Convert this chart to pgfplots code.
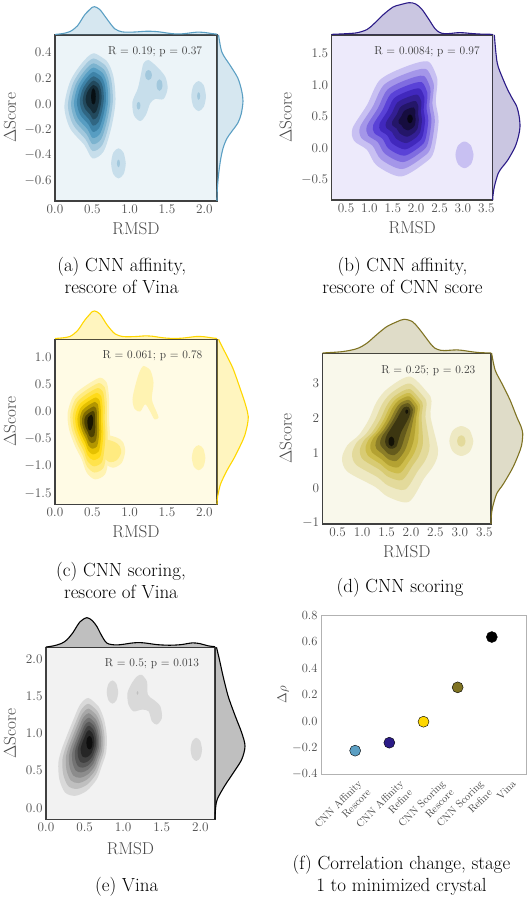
\RequirePackage{fix-cm}
\documentclass[border=0pt]{standalone}
\usepackage{pgfplots}
\pgfplotsset{compat=1.18}
\definecolor{baseA}{rgb}{0.268,0.572,0.733}
\definecolor{baseB}{rgb}{0.283,0.175,0.825}
\definecolor{baseC}{rgb}{1,0.843,0}
\definecolor{baseD}{rgb}{0.784,0.708,0.216}
\definecolor{baseE}{rgb}{0.5,0.5,0.5}
\definecolor{lineA}{rgb}{0.357,0.624,0.765}
\definecolor{lineB}{rgb}{0.169,0.106,0.529}
\definecolor{lineC}{rgb}{1,0.843,0}
\definecolor{lineD}{rgb}{0.498,0.451,0.137}
\definecolor{lineE}{rgb}{0,0,0}
\newcommand{\mkpal}[1]{%
 \colorlet{#1a}{base#1!10!white}%
 \colorlet{#1b}{base#1!30!white}%
 \colorlet{#1c}{base#1!50!white}%
 \colorlet{#1d}{base#1!70!white}%
 \colorlet{#1e}{base#1!90!white}%
 \colorlet{#1f}{base#1!90!black}%
 \colorlet{#1g}{base#1!70!black}%
 \colorlet{#1h}{base#1!50!black}%
 \colorlet{#1i}{base#1!30!black}%
 \colorlet{#1j}{base#1!10!black}}
\mkpal{A}\mkpal{B}\mkpal{C}\mkpal{D}\mkpal{E}
\newcommand{\blob}[2]{\addplot[draw=none,fill=#1,smooth] coordinates {#2};}
\newcommand{\capfont}{\fontsize{19}{22}\selectfont}
\tikzset{rtext/.style={font=\fontsize{11.5}{13}\selectfont, text=black!78}}
\pgfplotsset{
 kde/.style={scale only axis, anchor=south west, axis on top,
   axis line style={draw=black!75, line width=1.1pt},
   tick style={draw=none}, major tick length=0pt,
   tick label style={font=\fontsize{13.2}{15}\selectfont, text=black!70},
   xticklabel style={/pgf/number format/.cd, fixed, fixed zerofill, precision=1},
   yticklabel style={/pgf/number format/.cd, fixed, fixed zerofill, precision=1},
   xlabel={RMSD}, ylabel={$\Delta$Score},
   label style={font=\fontsize{17.2}{20}\selectfont, text=black!72},
   xlabel style={anchor=center}, ylabel style={anchor=center}},
 marg/.style={scale only axis, anchor=south west, hide axis, clip=false},
}
\begin{document}
\begin{tikzpicture}
\useasboundingbox (0,0) rectangle (530pt,900pt);
%%%%%%%%%%%%%%%% (a)
\begin{axis}[kde, at={(55pt,699pt)}, width=162pt, height=166pt,
 xmin=0, xmax=2.17, ymin=-0.755, ymax=0.534,
 xtick={0,0.5,1,1.5,2}, ytick={-0.6,-0.4,-0.2,0,0.2,0.4},
 axis background/.style={fill=Aa},
 xlabel style={at={(axis description cs:0.5,-0.169)}},
 ylabel style={at={(axis description cs:-0.278,0.5)}}]
\blob{Ab}{(0.515,0.392) (0.694,0.332) (0.783,0.210) (0.810,0.016) (0.752,-0.191) (0.649,-0.372) (0.502,-0.424) (0.394,-0.321) (0.202,-0.191) (0.126,-0.023) (0.202,0.172) (0.358,0.314) (0.515,0.392) (0.694,0.332)}
\blob{Ab}{(1.253,0.340) (1.365,0.288) (1.477,0.210) (1.508,0.119) (1.454,0.037) (1.342,0.037) (1.275,0.003) (1.217,-0.088) (1.141,-0.134) (1.056,-0.088) (1.038,0.016) (1.110,0.119) (1.154,0.236) (1.186,0.314) (1.253,0.340) (1.365,0.288)}
\blob{Ab}{(2.022,0.060) (1.993,0.143) (1.924,0.177) (1.855,0.143) (1.826,0.060) (1.855,-0.023) (1.924,-0.057) (1.993,-0.023) (2.022,0.060) (1.993,0.143)}
\blob{Ab}{(0.948,-0.463) (0.919,-0.380) (0.850,-0.346) (0.781,-0.380) (0.752,-0.463) (0.781,-0.546) (0.850,-0.580) (0.919,-0.546) (0.948,-0.463) (0.919,-0.380)}
\blob{Ac}{(0.515,0.352) (0.673,0.299) (0.751,0.191) (0.775,0.021) (0.724,-0.161) (0.633,-0.321) (0.504,-0.367) (0.409,-0.276) (0.240,-0.161) (0.173,-0.014) (0.240,0.158) (0.377,0.283) (0.515,0.352) (0.673,0.299)}
\blob{Ac}{(1.298,0.223) (1.285,0.251) (1.253,0.263) (1.221,0.251) (1.208,0.223) (1.221,0.195) (1.253,0.183) (1.285,0.195) (1.298,0.223) (1.285,0.251)}
\blob{Ac}{(1.44,0.145) (1.428,0.177) (1.40,0.19) (1.372,0.177) (1.36,0.145) (1.372,0.113) (1.40,0.10) (1.428,0.113) (1.44,0.145) (1.428,0.177)}
\blob{Ac}{(1.144,-0.015) (1.137,0.006) (1.119,0.015) (1.101,0.006) (1.094,-0.015) (1.101,-0.036) (1.119,-0.045) (1.137,-0.036) (1.144,-0.015) (1.137,0.006)}
\blob{Ac}{(1.944,0.06) (1.938,0.081) (1.924,0.09) (1.910,0.081) (1.904,0.06) (1.910,0.039) (1.924,0.03) (1.938,0.039) (1.944,0.06) (1.938,0.081)}
\blob{Ac}{(0.870,-0.463) (0.864,-0.442) (0.850,-0.433) (0.836,-0.442) (0.830,-0.463) (0.836,-0.484) (0.850,-0.493) (0.864,-0.484) (0.870,-0.463) (0.864,-0.442)}
\blob{Ad}{(0.515,0.314) (0.653,0.268) (0.721,0.174) (0.742,0.025) (0.697,-0.134) (0.618,-0.274) (0.505,-0.314) (0.422,-0.235) (0.274,-0.134) (0.215,-0.005) (0.274,0.145) (0.394,0.254) (0.515,0.314) (0.653,0.268)}
\blob{Ae}{(0.515,0.281) (0.635,0.241) (0.695,0.159) (0.713,0.029) (0.674,-0.110) (0.605,-0.231) (0.506,-0.266) (0.434,-0.197) (0.305,-0.110) (0.254,0.003) (0.305,0.133) (0.410,0.229) (0.515,0.281) (0.635,0.241)}
\blob{Af}{(0.515,0.247) (0.617,0.213) (0.668,0.143) (0.683,0.033) (0.650,-0.085) (0.591,-0.188) (0.508,-0.218) (0.446,-0.159) (0.337,-0.085) (0.293,0.011) (0.337,0.122) (0.426,0.203) (0.515,0.247) (0.617,0.213)}
\blob{Ag}{(0.515,0.213) (0.599,0.185) (0.641,0.128) (0.654,0.037) (0.626,-0.061) (0.578,-0.146) (0.509,-0.170) (0.458,-0.122) (0.368,-0.061) (0.332,0.018) (0.368,0.110) (0.441,0.177) (0.515,0.213) (0.599,0.185)}
\blob{Ah}{(0.515,0.180) (0.581,0.157) (0.614,0.112) (0.624,0.041) (0.603,-0.036) (0.565,-0.103) (0.510,-0.122) (0.470,-0.084) (0.399,-0.036) (0.371,0.026) (0.399,0.098) (0.457,0.151) (0.515,0.180) (0.581,0.157)}
\blob{Ai}{(0.515,0.146) (0.563,0.130) (0.587,0.097) (0.595,0.044) (0.579,-0.011) (0.551,-0.060) (0.511,-0.074) (0.482,-0.047) (0.430,-0.011) (0.410,0.034) (0.430,0.087) (0.473,0.125) (0.515,0.146) (0.563,0.130)}
\blob{Aj}{(0.515,0.12) (0.538,0.1) (0.546,0.055) (0.538,0.01) (0.515,-0.005) (0.492,0.01) (0.484,0.055) (0.492,0.1) (0.515,0.12) (0.538,0.1)}
\node[rtext] at (axis cs:1.34,0.404) {R = 0.19; p = 0.37};
\end{axis}
\begin{axis}[marg, at={(55pt,865pt)}, width=162pt, height=28.3pt, xmin=0, xmax=2.17, ymin=0, ymax=1]
\addplot[draw=none, fill=lineA, fill opacity=0.25, smooth] coordinates {(0,0) (0,0.02) (0.1,0.05) (0.2,0.12) (0.3,0.32) (0.4,0.72) (0.5,0.98) (0.53,1.0) (0.6,0.9) (0.7,0.55) (0.8,0.22) (0.9,0.11) (1.0,0.10) (1.1,0.11) (1.2,0.13) (1.3,0.13) (1.4,0.11) (1.5,0.07) (1.6,0.04) (1.7,0.04) (1.8,0.07) (1.9,0.10) (2.0,0.09) (2.1,0.05) (2.17,0.03) (2.17,0)};
\addplot[lineA, line width=1.1pt, smooth] coordinates {(0,0.02) (0.1,0.05) (0.2,0.12) (0.3,0.32) (0.4,0.72) (0.5,0.98) (0.53,1.0) (0.6,0.9) (0.7,0.55) (0.8,0.22) (0.9,0.11) (1.0,0.10) (1.1,0.11) (1.2,0.13) (1.3,0.13) (1.4,0.11) (1.5,0.07) (1.6,0.04) (1.7,0.04) (1.8,0.07) (1.9,0.10) (2.0,0.09) (2.1,0.05) (2.17,0.03)};
\end{axis}
\begin{axis}[marg, at={(217pt,699pt)}, width=26pt, height=166pt, xmin=0, xmax=1, ymin=-0.755, ymax=0.534]
\addplot[draw=none, fill=lineA, fill opacity=0.25, smooth] coordinates {(0,0.534) (0.06,0.534) (0.19,0.40) (0.5,0.30) (0.8,0.20) (0.95,0.10) (1.0,0.02) (0.93,-0.08) (0.8,-0.15) (0.55,-0.22) (0.38,-0.27) (0.24,-0.34) (0.15,-0.42) (0.09,-0.50) (0.05,-0.57) (0.01,-0.67) (0,-0.755)};
\addplot[lineA, line width=1.1pt, smooth] coordinates {(0.06,0.534) (0.19,0.40) (0.5,0.30) (0.8,0.20) (0.95,0.10) (1.0,0.02) (0.93,-0.08) (0.8,-0.15) (0.55,-0.22) (0.38,-0.27) (0.24,-0.34) (0.15,-0.42) (0.09,-0.50) (0.05,-0.57) (0.01,-0.67) (0,-0.755)};
\end{axis}
\node[font=\capfont, align=center] at (121.7pt,624pt) {(a) CNN affinity,\\rescore of Vina};
%%%%%%%%%%%%%%%% (b)
\begin{axis}[kde, at={(331.7pt,700pt)}, width=161pt, height=165pt,
 xmin=0.194, xmax=3.637, ymin=-0.82, ymax=1.79,
 xtick={0.5,1,1.5,2,2.5,3,3.5}, ytick={-0.5,0,0.5,1,1.5},
 axis background/.style={fill=Ba},
 xlabel style={at={(axis description cs:0.5,-0.17)}},
 ylabel style={at={(axis description cs:-0.286,0.5)}}]
\blob{Bb}{(2.261,1.369) (2.450,1.105) (2.420,0.737) (2.480,0.421) (2.380,-0.053) (2.206,-0.222) (1.675,-0.448) (1.157,-0.274) (0.950,-0.027) (0.674,0.115) (0.640,0.316) (0.950,0.684) (1.226,1.079) (1.778,1.290) (2.261,1.369) (2.450,1.105)}
\blob{Bb}{(3.227,-0.106) (3.170,0.043) (3.034,0.105) (2.898,0.043) (2.841,-0.106) (2.898,-0.255) (3.034,-0.317) (3.170,-0.255) (3.227,-0.106) (3.170,0.043)}
\blob{Bc}{(2.210,1.251) (2.374,1.022) (2.348,0.701) (2.400,0.426) (2.313,0.014) (2.162,-0.133) (1.700,-0.330) (1.249,-0.178) (1.069,0.037) (0.829,0.160) (0.800,0.335) (1.069,0.655) (1.309,0.999) (1.790,1.182) (2.210,1.251) (2.374,1.022)}
\blob{Bd}{(2.163,1.143) (2.305,0.945) (2.282,0.669) (2.327,0.431) (2.252,0.076) (2.122,-0.051) (1.723,-0.220) (1.335,-0.090) (1.179,0.095) (0.972,0.202) (0.947,0.353) (1.179,0.629) (1.386,0.925) (1.800,1.083) (2.163,1.143) (2.305,0.945)}
\blob{Be}{(2.120,1.043) (2.240,0.874) (2.221,0.638) (2.260,0.436) (2.196,0.133) (2.084,0.025) (1.744,-0.120) (1.413,-0.009) (1.280,0.149) (1.104,0.240) (1.082,0.369) (1.280,0.604) (1.457,0.857) (1.810,0.992) (2.120,1.043) (2.240,0.874)}
\blob{Bf}{(2.076,0.943) (2.176,0.803) (2.161,0.608) (2.192,0.441) (2.139,0.190) (2.047,0.100) (1.766,-0.020) (1.491,0.072) (1.381,0.203) (1.235,0.279) (1.217,0.385) (1.381,0.580) (1.528,0.789) (1.820,0.901) (2.076,0.943) (2.176,0.803)}
\blob{Bg}{(2.033,0.844) (2.112,0.733) (2.100,0.578) (2.125,0.445) (2.083,0.246) (2.010,0.175) (1.787,0.080) (1.569,0.153) (1.482,0.257) (1.367,0.317) (1.352,0.401) (1.482,0.556) (1.598,0.722) (1.830,0.810) (2.033,0.844) (2.112,0.733)}
\blob{Bh}{(1.990,0.744) (2.048,0.662) (2.039,0.548) (2.058,0.450) (2.027,0.303) (1.973,0.251) (1.808,0.181) (1.648,0.235) (1.583,0.311) (1.498,0.355) (1.487,0.417) (1.583,0.532) (1.669,0.654) (1.840,0.719) (1.990,0.744) (2.048,0.662)}
\blob{Bi}{(1.947,0.644) (1.984,0.591) (1.978,0.518) (1.990,0.455) (1.970,0.360) (1.936,0.326) (1.829,0.281) (1.726,0.316) (1.684,0.365) (1.629,0.393) (1.622,0.434) (1.684,0.507) (1.740,0.586) (1.850,0.628) (1.947,0.644) (1.984,0.591)}
\blob{Bj}{(1.928,0.463) (1.910,0.513) (1.868,0.533) (1.826,0.513) (1.808,0.463) (1.826,0.413) (1.868,0.393) (1.910,0.413) (1.928,0.463) (1.910,0.513)}
\node[rtext] at (axis cs:2.234,1.527) {R = 0.0084; p = 0.97};
\end{axis}
\begin{axis}[marg, at={(331.7pt,865pt)}, width=161pt, height=32.3pt, xmin=0.194, xmax=3.637, ymin=0, ymax=1]
\addplot[draw=none, fill=lineB, fill opacity=0.25, smooth] coordinates {(0.194,0) (0.194,0.02) (0.5,0.04) (0.74,0.07) (0.95,0.17) (1.1,0.35) (1.29,0.62) (1.50,0.86) (1.64,0.93) (1.85,1.0) (1.99,0.96) (2.12,0.8) (2.26,0.51) (2.40,0.2) (2.5,0.08) (2.61,0.04) (2.75,0.05) (2.88,0.07) (3.0,0.07) (3.15,0.05) (3.35,0.03) (3.637,0.02) (3.637,0)};
\addplot[lineB, line width=1.1pt, smooth] coordinates {(0.194,0.02) (0.5,0.04) (0.74,0.07) (0.95,0.17) (1.1,0.35) (1.29,0.62) (1.50,0.86) (1.64,0.93) (1.85,1.0) (1.99,0.96) (2.12,0.8) (2.26,0.51) (2.40,0.2) (2.5,0.08) (2.61,0.04) (2.75,0.05) (2.88,0.07) (3.0,0.07) (3.15,0.05) (3.35,0.03) (3.637,0.02)};
\end{axis}
\begin{axis}[marg, at={(492.7pt,700pt)}, width=27.3pt, height=165pt, xmin=0, xmax=1, ymin=-0.82, ymax=1.79]
\addplot[draw=none, fill=lineB, fill opacity=0.25, smooth] coordinates {(0,1.79) (0.06,1.79) (0.12,1.5) (0.2,1.29) (0.5,0.97) (0.7,0.8) (0.88,0.66) (0.97,0.5) (1.0,0.34) (0.95,0.2) (0.82,0.02) (0.55,-0.19) (0.35,-0.3) (0.2,-0.40) (0.06,-0.61) (0.01,-0.75) (0,-0.82)};
\addplot[lineB, line width=1.1pt, smooth] coordinates {(0.06,1.79) (0.12,1.5) (0.2,1.29) (0.5,0.97) (0.7,0.8) (0.88,0.66) (0.97,0.5) (1.0,0.34) (0.95,0.2) (0.82,0.02) (0.55,-0.19) (0.35,-0.3) (0.2,-0.40) (0.06,-0.61) (0.01,-0.75) (0,-0.82)};
\end{axis}
\node[font=\capfont, align=center] at (402.5pt,624pt) {(b) CNN affinity,\\rescore of CNN score};
%%%%%%%%%%%%%%%% (c)
\begin{axis}[kde, at={(55pt,395.7pt)}, width=162pt, height=165pt,
 xmin=0, xmax=2.17, ymin=-1.70, ymax=1.32,
 xtick={0,0.5,1,1.5,2}, ytick={-1.5,-1,-0.5,0,0.5,1},
 axis background/.style={fill=Ca},
 xlabel style={at={(axis description cs:0.5,-0.166)}},
 ylabel style={at={(axis description cs:-0.278,0.5)}}]
\blob{Cb}{(0.604,0.618) (0.694,0.526) (0.725,0.221) (0.725,-0.145) (0.738,-0.512) (0.716,-0.878) (0.671,-1.152) (0.537,-1.244) (0.425,-1.122) (0.358,-0.878) (0.268,-0.634) (0.188,-0.328) (0.170,-0.023) (0.246,0.282) (0.403,0.465) (0.604,0.618) (0.694,0.526)}
\blob{Cb}{(0.70,-0.45) (0.83,-0.48) (0.91,-0.56) (0.94,-0.73) (0.895,-0.94) (0.78,-1.03) (0.68,-0.95) (0.66,-0.70) (0.70,-0.45) (0.83,-0.48)}
\blob{Cb}{(1.186,0.832) (1.275,0.758) (1.320,0.526) (1.298,0.221) (1.365,-0.023) (1.387,-0.115) (1.333,-0.145) (1.275,-0.003) (1.208,0.130) (1.141,-0.003) (1.065,0.050) (1.038,0.221) (1.074,0.465) (1.128,0.710) (1.186,0.832) (1.275,0.758)}
\blob{Cb}{(2.014,-0.847) (1.988,-0.684) (1.924,-0.617) (1.860,-0.684) (1.834,-0.847) (1.860,-1.010) (1.924,-1.077) (1.988,-1.010) (2.014,-0.847) (1.988,-0.684)}
\blob{Cc}{(0.588,0.519) (0.667,0.438) (0.694,0.170) (0.694,-0.152) (0.706,-0.475) (0.686,-0.797) (0.647,-1.038) (0.529,-1.119) (0.430,-1.012) (0.371,-0.797) (0.292,-0.583) (0.222,-0.313) (0.206,-0.045) (0.273,0.223) (0.411,0.384) (0.588,0.519) (0.667,0.438)}
\blob{Cc}{(0.68,-0.52) (0.80,-0.56) (0.87,-0.64) (0.885,-0.76) (0.83,-0.89) (0.74,-0.93) (0.66,-0.85) (0.65,-0.68) (0.68,-0.52) (0.80,-0.56)}
\blob{Cd}{(0.573,0.428) (0.642,0.358) (0.666,0.123) (0.666,-0.159) (0.676,-0.442) (0.659,-0.723) (0.625,-0.934) (0.522,-1.005) (0.435,-0.911) (0.384,-0.723) (0.314,-0.536) (0.253,-0.300) (0.239,-0.065) (0.298,0.170) (0.418,0.311) (0.573,0.428) (0.642,0.358)}
\blob{Ce}{(0.558,0.338) (0.618,0.277) (0.638,0.076) (0.638,-0.166) (0.647,-0.408) (0.632,-0.650) (0.603,-0.830) (0.514,-0.891) (0.440,-0.811) (0.396,-0.650) (0.337,-0.488) (0.284,-0.287) (0.272,-0.085) (0.322,0.116) (0.426,0.237) (0.558,0.338) (0.618,0.277)}
\blob{Cf}{(0.545,0.255) (0.595,0.204) (0.613,0.033) (0.613,-0.172) (0.620,-0.377) (0.608,-0.582) (0.583,-0.736) (0.508,-0.787) (0.445,-0.719) (0.407,-0.582) (0.357,-0.446) (0.312,-0.274) (0.302,-0.104) (0.345,0.067) (0.432,0.170) (0.545,0.255) (0.595,0.204)}
\blob{Cg}{(0.532,0.173) (0.573,0.131) (0.587,-0.010) (0.587,-0.178) (0.593,-0.347) (0.583,-0.515) (0.562,-0.641) (0.501,-0.683) (0.449,-0.627) (0.418,-0.515) (0.377,-0.403) (0.340,-0.262) (0.332,-0.122) (0.367,0.018) (0.439,0.103) (0.532,0.173) (0.573,0.131)}
\blob{Ch}{(0.518,0.091) (0.551,0.058) (0.562,-0.052) (0.562,-0.184) (0.566,-0.316) (0.559,-0.448) (0.542,-0.547) (0.494,-0.580) (0.454,-0.536) (0.430,-0.448) (0.397,-0.360) (0.368,-0.250) (0.362,-0.140) (0.389,-0.030) (0.446,0.036) (0.518,0.091) (0.551,0.058)}
\blob{Ci}{(0.505,0.008) (0.528,-0.016) (0.536,-0.095) (0.536,-0.190) (0.540,-0.286) (0.534,-0.381) (0.522,-0.452) (0.487,-0.476) (0.458,-0.444) (0.441,-0.381) (0.417,-0.317) (0.397,-0.238) (0.392,-0.158) (0.412,-0.079) (0.453,-0.032) (0.505,0.008) (0.528,-0.016)}
\blob{Cj}{(0.49,-0.06) (0.51,-0.13) (0.505,-0.25) (0.48,-0.34) (0.45,-0.33) (0.435,-0.22) (0.44,-0.12) (0.49,-0.06) (0.51,-0.13)}
\node[rtext] at (axis cs:1.306,1.015) {R = 0.061; p = 0.78};
\end{axis}
\begin{axis}[marg, at={(55pt,560.7pt)}, width=162pt, height=28.3pt, xmin=0, xmax=2.17, ymin=0, ymax=1]
\addplot[draw=none, fill=lineC, fill opacity=0.25, smooth] coordinates {(0,0) (0,0.03) (0.1,0.05) (0.2,0.1) (0.3,0.3) (0.4,0.68) (0.5,0.98) (0.53,1.0) (0.6,0.9) (0.7,0.5) (0.8,0.2) (0.9,0.1) (1.0,0.09) (1.1,0.1) (1.2,0.12) (1.3,0.11) (1.4,0.07) (1.5,0.04) (1.6,0.03) (1.7,0.04) (1.8,0.07) (1.9,0.1) (2.0,0.09) (2.1,0.05) (2.17,0.03) (2.17,0)};
\addplot[lineC, line width=1.1pt, smooth] coordinates {(0,0.03) (0.1,0.05) (0.2,0.1) (0.3,0.3) (0.4,0.68) (0.5,0.98) (0.53,1.0) (0.6,0.9) (0.7,0.5) (0.8,0.2) (0.9,0.1) (1.0,0.09) (1.1,0.1) (1.2,0.12) (1.3,0.11) (1.4,0.07) (1.5,0.04) (1.6,0.03) (1.7,0.04) (1.8,0.07) (1.9,0.1) (2.0,0.09) (2.1,0.05) (2.17,0.03)};
\end{axis}
\begin{axis}[marg, at={(217pt,395.7pt)}, width=31.3pt, height=165pt, xmin=0, xmax=1, ymin=-1.70, ymax=1.32]
\addplot[draw=none, fill=lineC, fill opacity=0.25, smooth] coordinates {(0,1.32) (0.05,1.32) (0.15,1.2) (0.33,1.0) (0.5,0.8) (0.63,0.6) (0.75,0.4) (0.87,0.2) (0.97,0.0) (1.0,-0.1) (0.97,-0.25) (0.88,-0.45) (0.75,-0.62) (0.55,-0.85) (0.32,-1.08) (0.12,-1.32) (0.04,-1.5) (0.01,-1.6) (0,-1.7)};
\addplot[lineC, line width=1.1pt, smooth] coordinates {(0.05,1.32) (0.15,1.2) (0.33,1.0) (0.5,0.8) (0.63,0.6) (0.75,0.4) (0.87,0.2) (0.97,0.0) (1.0,-0.1) (0.97,-0.25) (0.88,-0.45) (0.75,-0.62) (0.55,-0.85) (0.32,-1.08) (0.12,-1.32) (0.04,-1.5) (0.01,-1.6) (0,-1.7)};
\end{axis}
\node[font=\capfont, align=center] at (121pt,319pt) {(c) CNN scoring,\\rescore of Vina};
%%%%%%%%%%%%%%%% (d)
\begin{axis}[kde, at={(322.7pt,376pt)}, width=168.3pt, height=170.7pt,
 xmin=0.194, xmax=3.637, ymin=-1.04, ymax=3.86,
 xtick={0.5,1,1.5,2,2.5,3,3.5}, ytick={-1,0,1,2,3},
 yticklabel style={/pgf/number format/precision=0},
 axis background/.style={fill=Da},
 xlabel style={at={(axis description cs:0.5,-0.164)}},
 ylabel style={at={(axis description cs:-0.22,0.5)}}]
\blob{Db}{(1.992,3.190) (2.400,2.616) (2.400,2.041) (2.554,1.083) (2.468,0.652) (2.270,0.270) (1.958,-0.402) (1.530,-0.259) (1.264,0.029) (0.702,0.460) (0.589,0.845) (0.702,1.227) (0.935,1.514) (1.133,1.945) (1.298,2.471) (1.530,2.856) (1.992,3.190) (2.400,2.616)}
\blob{Db}{(3.275,1.342) (3.203,1.646) (3.030,1.772) (2.857,1.646) (2.785,1.342) (2.857,1.038) (3.030,0.912) (3.203,1.038) (3.275,1.342) (3.203,1.646)}
\blob{Dc}{(1.982,2.990) (2.306,2.520) (2.296,2.032) (2.381,1.202) (2.298,0.801) (2.139,0.479) (1.880,-0.052) (1.532,0.063) (1.316,0.303) (0.879,0.658) (0.794,0.977) (0.890,1.301) (1.083,1.552) (1.263,1.946) (1.413,2.409) (1.606,2.730) (1.982,2.990) (2.306,2.520)}
\blob{Dc}{(3.116,1.342) (3.091,1.457) (3.030,1.505) (2.969,1.457) (2.944,1.342) (2.969,1.227) (3.030,1.179) (3.091,1.227) (3.116,1.342) (3.091,1.457)}
\blob{Dd}{(1.975,2.833) (2.232,2.445) (2.215,2.024) (2.245,1.295) (2.165,0.918) (2.036,0.643) (1.819,0.222) (1.534,0.315) (1.357,0.517) (1.017,0.813) (0.954,1.081) (1.037,1.359) (1.199,1.582) (1.365,1.947) (1.504,2.360) (1.665,2.632) (1.975,2.833) (2.232,2.445)}
\blob{De}{(1.969,2.720) (2.179,2.391) (2.157,2.019) (2.147,1.362) (2.069,1.002) (1.962,0.761) (1.775,0.420) (1.535,0.496) (1.386,0.672) (1.117,0.924) (1.070,1.156) (1.144,1.401) (1.283,1.604) (1.439,1.948) (1.569,2.325) (1.708,2.561) (1.969,2.720) (2.179,2.391)}
\blob{Df}{(1.965,2.624) (2.133,2.346) (2.107,2.014) (2.064,1.419) (1.988,1.073) (1.899,0.862) (1.738,0.587) (1.537,0.650) (1.411,0.803) (1.201,1.019) (1.168,1.219) (1.234,1.437) (1.354,1.622) (1.502,1.948) (1.624,2.295) (1.745,2.501) (1.965,2.624) (2.133,2.346)}
\blob{Dg}{(1.960,2.520) (2.084,2.296) (2.053,2.009) (1.973,1.481) (1.900,1.151) (1.831,0.971) (1.698,0.770) (1.538,0.818) (1.438,0.946) (1.293,1.122) (1.275,1.288) (1.332,1.476) (1.432,1.642) (1.570,1.949) (1.685,2.262) (1.784,2.436) (1.960,2.520) (2.084,2.296)}
\blob{Dh}{(1.955,2.424) (2.039,2.250) (2.004,2.005) (1.890,1.538) (1.819,1.222) (1.768,1.071) (1.661,0.937) (1.539,0.972) (1.463,1.077) (1.378,1.217) (1.373,1.351) (1.422,1.511) (1.503,1.660) (1.632,1.949) (1.740,2.233) (1.820,2.376) (1.955,2.424) (2.039,2.250)}
\blob{Di}{(1.95,2.32) (1.99,2.20) (1.95,2.00) (1.80,1.60) (1.73,1.30) (1.70,1.18) (1.62,1.12) (1.54,1.14) (1.49,1.22) (1.47,1.32) (1.48,1.42) (1.52,1.55) (1.58,1.68) (1.70,1.95) (1.80,2.20) (1.86,2.31) (1.95,2.32) (1.99,2.20)}
\blob{Dj}{(1.66,1.33) (1.642,1.429) (1.60,1.47) (1.558,1.429) (1.54,1.33) (1.558,1.231) (1.60,1.19) (1.642,1.231) (1.66,1.33) (1.642,1.429)}
\blob{Dj}{(1.943,2.184) (1.934,2.226) (1.913,2.244) (1.892,2.226) (1.883,2.184) (1.892,2.142) (1.913,2.124) (1.934,2.142) (1.943,2.184) (1.934,2.226)}
\node[rtext] at (axis cs:2.355,3.36) {R = 0.25; p = 0.23};
\end{axis}
\begin{axis}[marg, at={(322.7pt,546.7pt)}, width=168.3pt, height=34pt, xmin=0.194, xmax=3.637, ymin=0, ymax=1]
\addplot[draw=none, fill=lineD, fill opacity=0.25, smooth] coordinates {(0.194,0) (0.194,0.01) (0.6,0.05) (0.9,0.14) (1.1,0.3) (1.3,0.55) (1.5,0.78) (1.7,0.92) (1.86,1.0) (2.03,0.93) (2.15,0.75) (2.29,0.49) (2.4,0.28) (2.49,0.15) (2.6,0.09) (2.69,0.08) (2.8,0.09) (2.94,0.10) (3.08,0.08) (3.22,0.05) (3.4,0.02) (3.637,0.01) (3.637,0)};
\addplot[lineD, line width=1.1pt, smooth] coordinates {(0.194,0.01) (0.6,0.05) (0.9,0.14) (1.1,0.3) (1.3,0.55) (1.5,0.78) (1.7,0.92) (1.86,1.0) (2.03,0.93) (2.15,0.75) (2.29,0.49) (2.4,0.28) (2.49,0.15) (2.6,0.09) (2.69,0.08) (2.8,0.09) (2.94,0.10) (3.08,0.08) (3.22,0.05) (3.4,0.02) (3.637,0.01)};
\end{axis}
\begin{axis}[marg, at={(491pt,376pt)}, width=31.7pt, height=170.7pt, xmin=0, xmax=1, ymin=-1.04, ymax=3.86]
\addplot[draw=none, fill=lineD, fill opacity=0.25, smooth] coordinates {(0,3.86) (0.02,3.86) (0.13,3.38) (0.34,3.0) (0.6,2.52) (0.81,2.04) (0.95,1.75) (1.0,1.56) (0.98,1.3) (0.92,1.08) (0.7,0.6) (0.39,0.11) (0.18,-0.17) (0.05,-0.56) (0.01,-0.8) (0,-1.04)};
\addplot[lineD, line width=1.1pt, smooth] coordinates {(0.02,3.86) (0.13,3.38) (0.34,3.0) (0.6,2.52) (0.81,2.04) (0.95,1.75) (1.0,1.56) (0.98,1.3) (0.92,1.08) (0.7,0.6) (0.39,0.11) (0.18,-0.17) (0.05,-0.56) (0.01,-0.8) (0,-1.04)};
\end{axis}
\node[font=\capfont, align=center] at (400pt,312pt) {(d) CNN scoring};
%%%%%%%%%%%%%%%% (e)
\begin{axis}[kde, at={(46pt,80.7pt)}, width=169pt, height=172pt,
 xmin=0, xmax=2.19, ymin=-0.155, ymax=2.16,
 xtick={0,0.5,1,1.5,2}, ytick={0,0.5,1,1.5,2},
 axis background/.style={fill=Ea},
 xlabel style={at={(axis description cs:0.5,-0.169)}},
 ylabel style={at={(axis description cs:-0.213,0.5)}}]
\blob{Eb}{(0.550,1.478) (0.680,1.365) (0.753,1.187) (0.788,0.964) (0.779,0.742) (0.723,0.562) (0.658,0.384) (0.528,0.228) (0.377,0.161) (0.247,0.206) (0.173,0.384) (0.160,0.608) (0.203,0.786) (0.268,0.964) (0.355,1.187) (0.442,1.388) (0.550,1.478) (0.680,1.365)}
\blob{Eb}{(0.935,1.558) (0.913,1.668) (0.861,1.714) (0.809,1.668) (0.787,1.558) (0.809,1.448) (0.861,1.402) (0.913,1.448) (0.935,1.558) (0.913,1.668)}
\blob{Eb}{(2.022,0.786) (2.000,0.896) (1.948,0.942) (1.896,0.896) (1.874,0.786) (1.896,0.676) (1.948,0.630) (2.000,0.676) (2.022,0.786) (2.000,0.896)}
\blob{Eb}{(1.243,1.790) (1.308,1.700) (1.320,1.522) (1.394,1.455) (1.481,1.366) (1.502,1.210) (1.437,1.120) (1.372,1.165) (1.329,1.299) (1.243,1.321) (1.134,1.299) (1.069,1.388) (1.056,1.545) (1.113,1.679) (1.178,1.767) (1.243,1.790) (1.308,1.700)}
\blob{Ec}{(1.198,1.545) (1.186,1.570) (1.174,1.545) (1.186,1.520) (1.198,1.545) (1.186,1.570)}
\blob{Ec}{(0.552,1.400) (0.665,1.301) (0.728,1.147) (0.759,0.953) (0.751,0.759) (0.702,0.603) (0.646,0.448) (0.533,0.312) (0.401,0.254) (0.288,0.293) (0.224,0.448) (0.212,0.643) (0.250,0.798) (0.306,0.953) (0.382,1.147) (0.458,1.321) (0.552,1.400) (0.665,1.301)}
\blob{Ed}{(0.553,1.334) (0.652,1.248) (0.707,1.112) (0.734,0.943) (0.727,0.774) (0.685,0.637) (0.635,0.502) (0.536,0.384) (0.422,0.333) (0.323,0.367) (0.267,0.502) (0.257,0.672) (0.289,0.808) (0.339,0.943) (0.405,1.112) (0.471,1.265) (0.553,1.334) (0.652,1.248)}
\blob{Ee}{(0.554,1.273) (0.640,1.199) (0.688,1.081) (0.712,0.934) (0.706,0.788) (0.669,0.669) (0.626,0.551) (0.540,0.448) (0.440,0.404) (0.354,0.434) (0.306,0.551) (0.297,0.699) (0.325,0.817) (0.368,0.934) (0.426,1.081) (0.483,1.214) (0.554,1.273) (0.640,1.199)}
\blob{Ef}{(0.556,1.213) (0.629,1.150) (0.669,1.050) (0.689,0.925) (0.684,0.801) (0.653,0.700) (0.616,0.600) (0.543,0.513) (0.459,0.476) (0.386,0.501) (0.345,0.600) (0.337,0.726) (0.361,0.826) (0.398,0.925) (0.447,1.050) (0.495,1.163) (0.556,1.213) (0.629,1.150)}
\blob{Eg}{(0.557,1.159) (0.618,1.106) (0.652,1.022) (0.669,0.917) (0.665,0.813) (0.638,0.728) (0.608,0.645) (0.547,0.571) (0.476,0.540) (0.414,0.561) (0.380,0.645) (0.374,0.750) (0.394,0.834) (0.424,0.917) (0.465,1.022) (0.506,1.117) (0.557,1.159) (0.618,1.106)}
\blob{Eh}{(0.558,1.105) (0.607,1.062) (0.635,0.994) (0.649,0.909) (0.645,0.825) (0.624,0.757) (0.599,0.689) (0.550,0.630) (0.492,0.604) (0.443,0.621) (0.415,0.689) (0.410,0.774) (0.426,0.842) (0.451,0.909) (0.484,0.994) (0.517,1.071) (0.558,1.105) (0.607,1.062)}
\blob{Ei}{(0.559,1.045) (0.596,1.013) (0.616,0.963) (0.626,0.901) (0.623,0.838) (0.608,0.788) (0.590,0.738) (0.553,0.695) (0.511,0.676) (0.475,0.688) (0.454,0.738) (0.450,0.801) (0.462,0.851) (0.480,0.901) (0.505,0.963) (0.529,1.019) (0.559,1.045) (0.596,1.013)}
\blob{Ej}{(0.603,0.876) (0.591,0.94) (0.563,0.966) (0.535,0.94) (0.523,0.876) (0.535,0.81) (0.563,0.786) (0.591,0.81) (0.603,0.876) (0.591,0.94)}
\node[rtext] at (axis cs:1.373,1.933) {R = 0.5; p = 0.013};
\end{axis}
\begin{axis}[marg, at={(46pt,252.7pt)}, width=169pt, height=29.6pt, xmin=0, xmax=2.19, ymin=0, ymax=1]
\addplot[draw=none, fill=lineE, fill opacity=0.25, smooth] coordinates {(0,0) (0,0.01) (0.1,0.05) (0.2,0.13) (0.27,0.25) (0.35,0.5) (0.44,0.86) (0.53,1.0) (0.6,0.9) (0.66,0.7) (0.72,0.4) (0.79,0.14) (0.9,0.08) (1.0,0.1) (1.1,0.14) (1.2,0.16) (1.3,0.14) (1.44,0.09) (1.6,0.07) (1.75,0.09) (1.9,0.15) (2.0,0.12) (2.1,0.05) (2.19,0.02) (2.19,0)};
\addplot[lineE, line width=1.1pt, smooth] coordinates {(0,0.01) (0.1,0.05) (0.2,0.13) (0.27,0.25) (0.35,0.5) (0.44,0.86) (0.53,1.0) (0.6,0.9) (0.66,0.7) (0.72,0.4) (0.79,0.14) (0.9,0.08) (1.0,0.1) (1.1,0.14) (1.2,0.16) (1.3,0.14) (1.44,0.09) (1.6,0.07) (1.75,0.09) (1.9,0.15) (2.0,0.12) (2.1,0.05) (2.19,0.02)};
\end{axis}
\begin{axis}[marg, at={(215pt,80.7pt)}, width=30pt, height=172pt, xmin=0, xmax=1, ymin=-0.155, ymax=2.16]
\addplot[draw=none, fill=lineE, fill opacity=0.25, smooth] coordinates {(0,2.16) (0.05,2.16) (0.15,1.99) (0.27,1.77) (0.44,1.5) (0.67,1.24) (0.89,1.01) (1.0,0.83) (0.89,0.65) (0.61,0.47) (0.33,0.30) (0.08,0.12) (0.02,0.0) (0,-0.155)};
\addplot[lineE, line width=1.1pt, smooth] coordinates {(0.05,2.16) (0.15,1.99) (0.27,1.77) (0.44,1.5) (0.67,1.24) (0.89,1.01) (1.0,0.83) (0.89,0.65) (0.61,0.47) (0.33,0.30) (0.08,0.12) (0.02,0.0) (0,-0.155)};
\end{axis}
\node[font=\capfont, align=center] at (126.7pt,13.3pt) {(e) Vina};
%%%%%%%%%%%%%%%% (f)
\begin{axis}[scale only axis, anchor=south west, at={(321pt,125.7pt)}, width=205pt, height=159.3pt,
 xmin=-1, xmax=5, ymin=-0.4, ymax=0.8,
 axis line style={draw=black!30, line width=0.9pt},
 tick style={draw=none}, major tick length=0pt,
 xtick={-0.05,1.17,2.39,3.51,4.47},
 xticklabels={{CNN Affinity\\Rescore},{CNN Affinity\\Refine},{CNN Scoring\\Rescore},{CNN Scoring\\Refine},{Vina}},
 xticklabel style={rotate=45, anchor=north east, align=right, font=\fontsize{10.5}{12.5}\selectfont, text=black!72, inner sep=1pt, yshift=-5pt},
 ytick={-0.4,-0.2,0,0.2,0.4,0.6,0.8},
 yticklabel style={font=\fontsize{12.5}{14}\selectfont, text=black!72, /pgf/number format/.cd, fixed, fixed zerofill, precision=1},
 ylabel={$\Delta\rho$},
 ylabel style={font=\fontsize{13}{15}\selectfont, text=black!72, at={(axis description cs:-0.185,0.5)}, anchor=center}]
\addplot[only marks, mark=*, mark size=5.5pt, mark options={draw=none, fill=lineA}] coordinates {(0,-0.222)};
\addplot[only marks, mark=*, mark size=5.5pt, mark options={draw=none, fill=lineB}] coordinates {(1,-0.162)};
\addplot[only marks, mark=*, mark size=5.5pt, mark options={draw=none, fill=lineC}] coordinates {(2,-0.004)};
\addplot[only marks, mark=*, mark size=5.5pt, mark options={draw=none, fill=lineD}] coordinates {(3,0.255)};
\addplot[only marks, mark=*, mark size=5.5pt, mark options={draw=none, fill=black}] coordinates {(4,0.634)};
\end{axis}
\node[font=\capfont, align=center] at (401.5pt,24.2pt) {(f) Correlation change, stage\\1 to minimized crystal};
\end{tikzpicture}
\end{document}
